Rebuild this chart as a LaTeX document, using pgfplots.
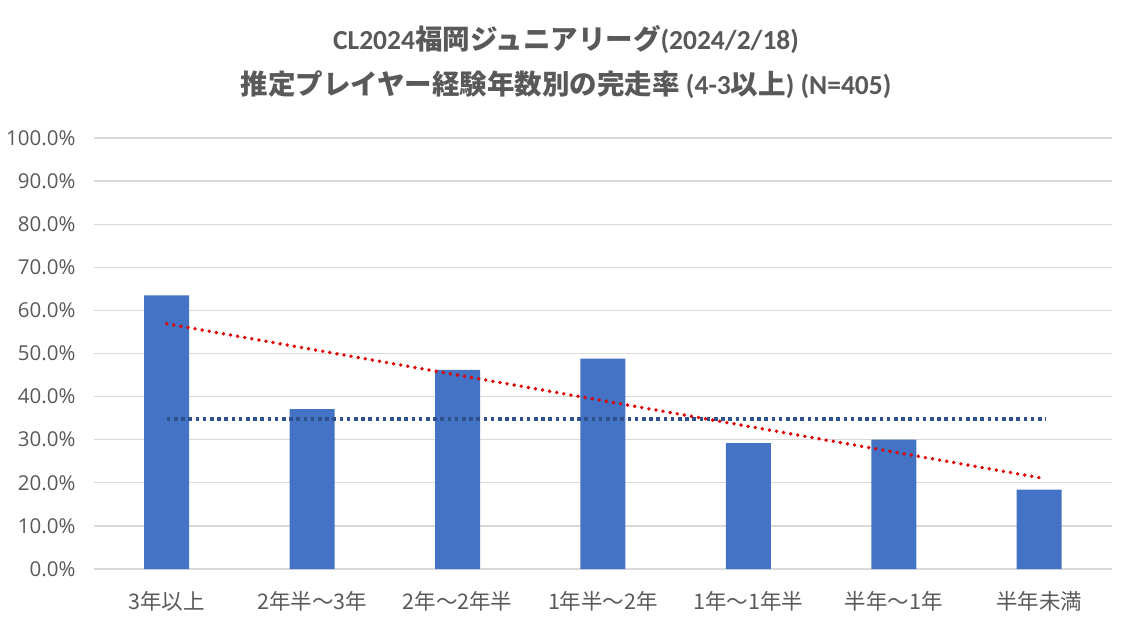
\documentclass[border=0pt]{standalone}
\usepackage{fontspec}
\setmainfont{Noto Sans CJK JP}
\newfontfamily\carlito{Carlito}
\newfontfamily\opensans{Open Sans}
\usepackage{pgfplots}
\pgfplotsset{compat=1.18}
\definecolor{txtgray}{HTML}{595959}
\definecolor{gridgray}{HTML}{D9D9D9}
\definecolor{barblue}{HTML}{4472C4}
\definecolor{avgblue}{HTML}{2F528F}
\definecolor{trendred}{HTML}{E00000}
\begin{document}
\begin{tikzpicture}
\useasboundingbox (-94pt,-61pt) rectangle (1041pt,569pt);
\begin{axis}[
  at={(0pt,0pt)}, anchor=south west,
  scale only axis, width=1018pt, height=431pt,
  xmin=-0.5, xmax=6.5, ymin=0, ymax=100,
  xtick={0,1,2,3,4,5,6},
  xticklabels={3年以上,2年半〜3年,2年〜2年半,1年半〜2年,1年〜1年半,半年〜1年,半年未満},
  ytick={0,10,20,30,40,50,60,70,80,90,100},
  yticklabels={0.0\%,10.0\%,20.0\%,30.0\%,40.0\%,50.0\%,60.0\%,70.0\%,80.0\%,90.0\%,100.0\%},
  ymajorgrids, major grid style={color=gridgray, line width=1.3pt},
  axis line style={draw=none},
  major tick length=0pt,
  x tick label style={font=\fontsize{21.5}{24}\selectfont, text=txtgray, yshift=-19pt},
  y tick label style={font=\opensans\fontsize{20.5}{24}\selectfont, text=txtgray, xshift=-15pt},
  clip=false,
]
\addplot[ybar, bar width=45pt, fill=barblue, draw=none] coordinates {
  (0,63.5) (1,37.1) (2,46.2) (3,48.8) (4,29.2) (5,30.0) (6,18.4)
};
\addplot[color=avgblue, line width=3.4pt, dash pattern=on 3.6pt off 3.6pt, line cap=butt, mark=none] coordinates {
  (0,34.8) (6.05,34.8)
};
\addplot[color=trendred, line width=3.8pt, dash pattern=on 0pt off 7.2pt, line cap=round, mark=none] coordinates {
  (0,56.9) (6,21.2)
};
\end{axis}
\node[text=txtgray, font=\fontsize{27.5}{32}\selectfont\bfseries] at (472pt,529pt) {{\carlito CL2024}福岡ジュニアリーグ{\carlito (2024/2/18)}};
\node[text=txtgray, font=\fontsize{27.5}{32}\selectfont\bfseries] at (472pt,484pt) {推定プレイヤー経験年数別の完走率{\carlito\ (4-3}以上{\carlito ) (N=405)}};
\end{tikzpicture}
\end{document}
